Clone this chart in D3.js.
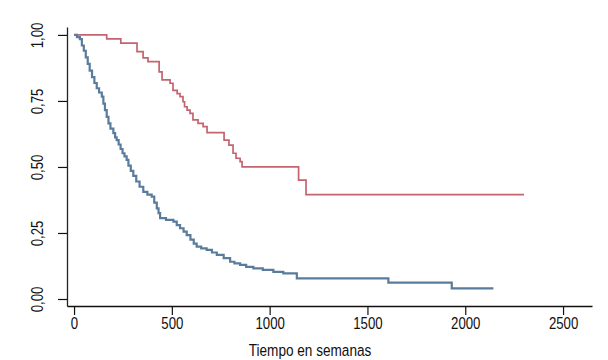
<!DOCTYPE html>
<html>
<head>
<meta charset="utf-8">
<script src="https://cdn.jsdelivr.net/npm/d3@7"></script>
<style>
  body { margin: 0; background: #fff; }
  svg text { font-family: "Liberation Sans", Arial, sans-serif; fill: #111; }
</style>
</head>
<body>
<svg id="km" width="608" height="360"></svg>
<script>
// Kaplan-Meier curves (time in weeks, survival)
const redTimes = [0, 167, 239, 322, 353, 378, 435, 450, 491, 506, 527, 542, 557, 565, 578, 593, 608, 634, 660, 680, 767, 792, 813, 828, 849, 859, 1148, 1186, 2300];
const redSurv  = [1, 0.985, 0.969, 0.937, 0.913, 0.899, 0.86, 0.83, 0.817, 0.79, 0.778, 0.766, 0.747, 0.728, 0.715, 0.703, 0.678, 0.665, 0.653, 0.63, 0.602, 0.583, 0.552, 0.533, 0.52, 0.50, 0.45, 0.395, 0.395];

const blueTimes = [0, 15, 30, 40, 50, 60, 70, 80, 92, 104, 116, 128, 142, 150, 158, 167, 176, 186, 201, 210, 218, 228, 238, 248, 258, 269, 278, 290, 303, 318, 335, 354, 375, 397, 410, 423, 432, 440, 470, 508, 525, 542, 560, 576, 595, 612, 627, 650, 678, 705, 730, 765, 798, 820, 849, 880, 917, 965, 1019, 1070, 1139, 1607, 1931, 2144];
const blueSurv  = [1, 0.992, 0.984, 0.96, 0.94, 0.915, 0.89, 0.865, 0.84, 0.818, 0.798, 0.782, 0.766, 0.74, 0.715, 0.69, 0.665, 0.645, 0.628, 0.612, 0.602, 0.585, 0.568, 0.552, 0.54, 0.527, 0.505, 0.485, 0.466, 0.445, 0.425, 0.406, 0.395, 0.388, 0.365, 0.343, 0.325, 0.306, 0.3, 0.293, 0.28, 0.268, 0.255, 0.242, 0.225, 0.21, 0.198, 0.192, 0.186, 0.176, 0.167, 0.155, 0.141, 0.135, 0.129, 0.122, 0.116, 0.11, 0.103, 0.097, 0.078, 0.062, 0.04, 0.04];

const xTicks = [0, 500, 1000, 1500, 2000, 2500];
const yTicks = [0, 0.25, 0.5, 0.75, 1];
const xLabel = 'Tiempo en semanas';

const svg = d3.select('#km');

const x = d3.scaleLinear().domain([-36, 2648]).range([67, 592]);
const y = d3.scaleLinear().domain([-0.0265, 1.03]).range([306, 27]);

const fmt = d3.formatLocale({ decimal: ',', thousands: '.', grouping: [3], currency: ['', ''] }).format('.2f');

// text in the picture is horizontally squeezed
const squeeze = 'scale(0.8,1)';

// Curves
const line = d3.line()
    .x(d => x(d[0]))
    .y(d => y(d[1]))
    .curve(d3.curveStepAfter);

const series = [
    { times: redTimes, surv: redSurv, color: '#c4646f', width: 1.7 },
    { times: blueTimes, surv: blueSurv, color: '#5a7c9c', width: 2.2 }
];

series.forEach(s => {
    const pts = s.times.map((t, i) => [t, s.surv[i]]);
    svg.append('path')
        .datum(pts)
        .attr('d', line)
        .attr('fill', 'none')
        .attr('stroke', s.color)
        .attr('stroke-width', s.width);
});

// X axis
const gx = svg.append('g')
    .attr('transform', 'translate(0,306)')
    .call(d3.axisBottom(x).tickValues(xTicks).tickFormat(d3.format('d')).tickSize(9).tickSizeOuter(0));
gx.select('.domain').attr('stroke', '#111').attr('stroke-width', 1.3);
gx.selectAll('.tick line').attr('stroke', '#111').attr('stroke-width', 1.2);
gx.selectAll('text')
    .style('font-size', '16.5px')
    .attr('transform', squeeze)
    .attr('y', 23)
    .attr('dy', 0);

// Y axis
const gy = svg.append('g')
    .attr('transform', 'translate(67,0)')
    .call(d3.axisLeft(y).tickValues(yTicks).tickFormat(fmt).tickSize(9).tickSizeOuter(0));
gy.select('.domain').attr('stroke', '#222').attr('stroke-width', 1.3);
gy.selectAll('.tick line').attr('stroke', '#111').attr('stroke-width', 1.2);
gy.selectAll('text')
    .style('font-size', '16.5px')
    .attr('transform', 'rotate(-90) ' + squeeze)
    .attr('x', 0)
    .attr('y', -23.7)
    .attr('dy', 0)
    .style('text-anchor', 'middle');

// X axis label
svg.append('text')
    .attr('transform', 'translate(310,356) ' + squeeze)
    .style('text-anchor', 'middle')
    .style('font-size', '17px')
    .text(xLabel);
</script>
</body>
</html>
